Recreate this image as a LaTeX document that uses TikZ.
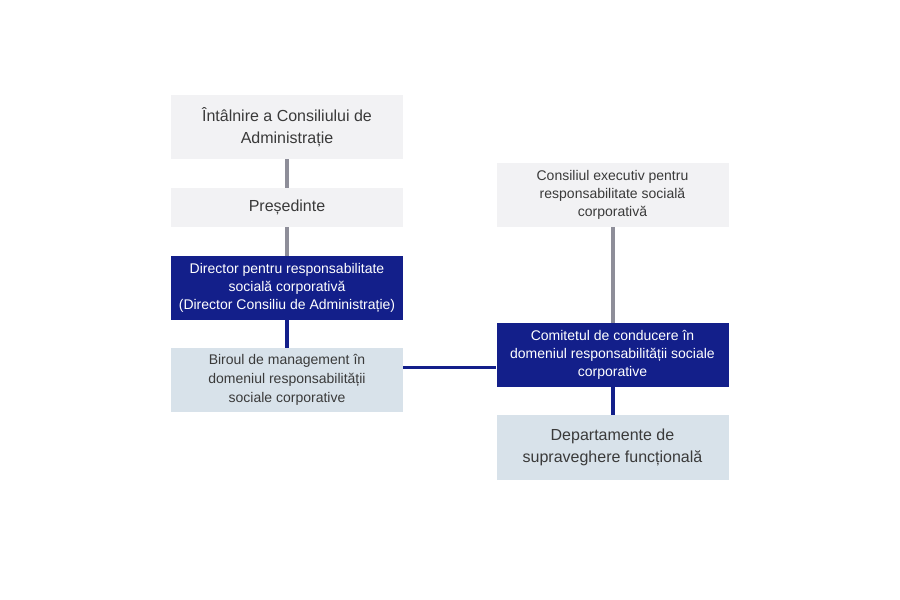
\documentclass[tikz,border=0pt]{standalone}
\usepackage{fontspec}
\setmainfont{Liberation Sans}
\usepackage{tikz}
\usetikzlibrary{calc}
\definecolor{boxgray}{HTML}{F2F2F4}
\definecolor{boxblue}{HTML}{D8E2EA}
\definecolor{darkblue}{HTML}{131F8A}
\definecolor{linegray}{HTML}{8E8E99}
\definecolor{txtgray}{HTML}{3A3A3A}
\begin{document}
\begin{tikzpicture}[x=0.5pt,y=-0.5pt,
    unit/.style={minimum width=116pt,minimum height=32pt,inner sep=0pt,align=center,text=txtgray},
    graybox/.style={unit,fill=boxgray},
    lightbox/.style={unit,fill=boxblue},
    darkbox/.style={unit,fill=darkblue,text=white},
    bigtext/.style={font=\fontsize{8}{11}\selectfont},
    smalltext/.style={font=\fontsize{7}{9}\selectfont},
    grayline/.style={draw=linegray,line width=2pt},
    blueline/.style={draw=darkblue,line width=2pt}]
    \useasboundingbox (0,0) rectangle (900,600);
    % left column
    \node[graybox,bigtext] (meeting) at (287,127) {Întâlnire a Consiliului de\\Administrație};
    \node[graybox,bigtext,minimum height=19.5pt] (pres) at (287,207.5) {Președinte};
    \node[darkbox,smalltext] (dir) at (287,288) {Director pentru responsabilitate\\socială corporativă\\(Director Consiliu de Administrație)};
    \node[lightbox,smalltext,font=\fontsize{7}{9.5}\selectfont] (office) at (287,380) {Biroul de management în\\domeniul responsabilității\\sociale corporative};
    % right column
    \node[graybox,smalltext] (exec) at (612.5,195) {Consiliul executiv pentru\\responsabilitate socială\\corporativă};
    \node[darkbox,smalltext] (comm) at (612.5,355) {Comitetul de conducere în\\domeniul responsabilității sociale\\corporative};
    \node[lightbox,bigtext,minimum height=32.5pt] (dept) at (612.5,447.5) {Departamente de\\supraveghere funcțională};
    % connectors
    \draw[grayline] (meeting) -- (pres);
    \draw[grayline] (pres) -- (dir);
    \draw[grayline] (exec) -- (comm);
    \draw[blueline] (dir) -- (office);
    \draw[blueline] (comm) -- (dept);
    \coordinate (mid) at ($(office.east)!.5!(comm.west)$);
    \draw[blueline,line width=1.6pt] (office.east |- mid) -- (comm.west |- mid);
\end{tikzpicture}
\end{document}
